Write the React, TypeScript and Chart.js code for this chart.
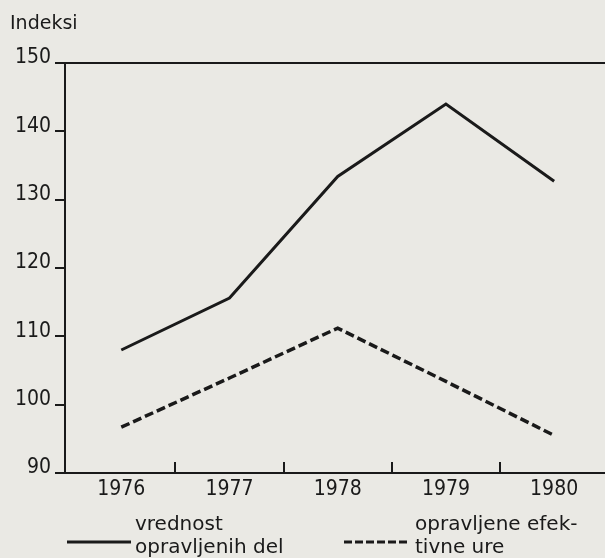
import React, { useEffect, useRef } from "react";
import { Chart, registerables } from "chart.js";

Chart.register(...registerables);

const years = [1976, 1977, 1978, 1979, 1980];
const vrednostOpravljenihDel = [108.0, 115.6, 133.4, 144.0, 132.7];
const opravljeneEfektivneUre = [96.7, 103.9, 111.2, 103.4, 95.5];
const yTicks = [90, 100, 110, 120, 130, 140, 150];
const yAxisTitle = "Indeksi";
const legendSolid = ["vrednost", "opravljenih del"];
const legendDashed = ["opravljene efek-", "tivne ure"];

const INK = "#1a1a1a";
const BG = "#eae9e4";
const DASH = [9, 4];
const TICK_FONT = { family: "'DejaVu Sans Condensed', 'DejaVu Sans'", size: 21 };

const decorPlugin = {
  id: "decor",
  afterDraw(chart: any) {
    const ctx = chart.ctx as CanvasRenderingContext2D;
    const xs = chart.scales.x;
    const area = chart.chartArea;
    ctx.save();
    ctx.strokeStyle = INK;
    ctx.lineWidth = 2;
    for (let i = 0; i < years.length - 1; i++) {
      const v = (years[i] + years[i + 1]) / 2;
      const px = Math.round(xs.getPixelForValue(v));
      ctx.beginPath();
      ctx.moveTo(px, area.bottom);
      ctx.lineTo(px, area.bottom - 11);
      ctx.stroke();
    }
    ctx.fillStyle = INK;
    ctx.font = "19px 'DejaVu Sans'";
    ctx.textBaseline = "alphabetic";
    ctx.textAlign = "left";
    ctx.fillText(yAxisTitle, 10, 29);
    ctx.font = "20px 'DejaVu Sans'";
    ctx.lineWidth = 3;
    ctx.setLineDash([]);
    ctx.beginPath();
    ctx.moveTo(67, 542);
    ctx.lineTo(131, 542);
    ctx.stroke();
    ctx.fillText(legendSolid[0], 135, 530);
    ctx.fillText(legendSolid[1], 135, 553);
    ctx.setLineDash([8, 3]);
    ctx.beginPath();
    ctx.moveTo(344, 542);
    ctx.lineTo(410, 542);
    ctx.stroke();
    ctx.setLineDash([]);
    ctx.fillText(legendDashed[0], 415, 530);
    ctx.fillText(legendDashed[1], 415, 553);
    ctx.restore();
  },
};

export default function App() {
  const ref = useRef<HTMLCanvasElement>(null);
  useEffect(() => {
    if (!ref.current) return;
    const chart = new Chart(ref.current, {
      type: "line",
      data: {
        datasets: [
          {
            label: legendSolid.join(" "),
            data: years.map((y, i) => ({ x: y, y: vrednostOpravljenihDel[i] })),
            borderColor: INK,
            borderWidth: 3,
            pointRadius: 0,
            tension: 0,
            fill: false,
          },
          {
            label: legendDashed.join(" "),
            data: years.map((y, i) => ({ x: y, y: opravljeneEfektivneUre[i] })),
            borderColor: INK,
            borderWidth: 3.5,
            borderDash: DASH,
            pointRadius: 0,
            tension: 0,
            fill: false,
          },
        ],
      },
      options: {
        animation: false,
        responsive: false,
        devicePixelRatio: 1,
        layout: { padding: { top: 63, right: 0, bottom: 0, left: 0 } },
        plugins: { legend: { display: false }, title: { display: false }, tooltip: { enabled: false } },
        scales: {
          x: {
            type: "linear",
            min: 1975.48,
            max: 1980.47,
            afterBuildTicks: (scale: any) => {
              scale.ticks = years.map((v) => ({ value: v }));
            },
            afterFit: (scale: any) => {
              scale.height = 85;
            },
            grid: { display: false, drawTicks: false },
            border: { display: true, color: INK, width: 2 },
            ticks: {
              color: INK,
              padding: 4,
              maxRotation: 0,
              autoSkip: false,
              font: TICK_FONT,
              callback: (v: any) => String(v),
            },
          },
          y: {
            type: "linear",
            min: 90,
            max: 150,
            afterBuildTicks: (scale: any) => {
              scale.ticks = yTicks.map((v) => ({ value: v }));
            },
            afterFit: (scale: any) => {
              scale.width = 65;
            },
            grid: {
              display: true,
              drawOnChartArea: true,
              drawTicks: true,
              tickLength: 10,
              lineWidth: 2,
              color: (c: any) => (c.tick && c.tick.value === 150 ? INK : "rgba(0,0,0,0)"),
              tickColor: INK,
            },
            border: { display: true, color: INK, width: 2 },
            ticks: {
              color: INK,
              padding: 4,
              labelOffset: -5,
              font: TICK_FONT,
              callback: (v: any) => String(v),
            },
          },
        },
      },
      plugins: [decorPlugin],
    });
    return () => chart.destroy();
  }, []);
  return (
    <div style={{ position: "fixed", left: 0, top: 0, width: 605, height: 558, background: BG }}>
      <canvas ref={ref} width={605} height={558} style={{ display: "block", width: 605, height: 558 }} />
    </div>
  );
}
